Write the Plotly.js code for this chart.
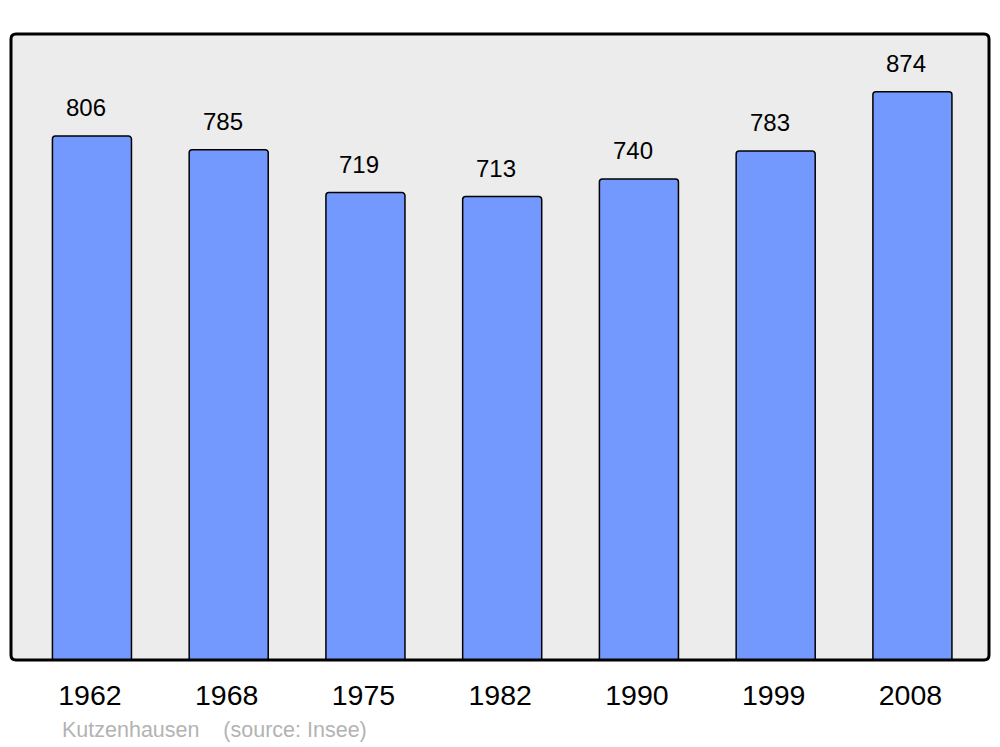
<!DOCTYPE html>
<html>
<head>
<meta charset="utf-8">
<script src="https://cdn.plot.ly/plotly-3.0.1.min.js"></script>
<style>
html,body{margin:0;padding:0;background:#fff;}
#chart{width:1000px;height:747px;}
</style>
</head>
<body>
<div id="chart"></div>
<script>
const years = ["1962", "1968", "1975", "1982", "1990", "1999", "2008"];
const population = [806, 785, 719, 713, 740, 783, 874];
const sourceText = "Kutzenhausen \u00a0\u00a0\u00a0(source: Insee)";

const FONT = '"Liberation Sans", Arial, sans-serif';

const trace = {
  type: 'bar',
  x: years,
  y: population,
  width: 0.578,
  marker: {
    color: '#7399ff',
    line: {color: '#000000', width: 1.5},
    cornerradius: 3
  },
  hoverinfo: 'x+y'
};

const annotations = years.map((yr, i) => ({
  x: i, y: population[i], xref: 'x', yref: 'y',
  text: String(population[i]),
  showarrow: false,
  xanchor: 'center', yanchor: 'bottom',
  xshift: -6, yshift: 13,
  font: {family: FONT, size: 24, color: '#000000'}
}));
annotations.push({
  x: 0.050, y: -0.112, xref: 'paper', yref: 'paper',
  text: sourceText, showarrow: false,
  xanchor: 'left', yanchor: 'middle',
  font: {family: FONT, size: 21.5, color: '#b3b3b3'}
});

// rounded frame path in paper coords
const rx = 5/978, ry = 5/626;
const framePath = `M ${rx},0 L ${1-rx},0 Q 1,0 1,${ry} L 1,${1-ry} Q 1,1 ${1-rx},1 L ${rx},1 Q 0,1 0,${1-ry} L 0,${ry} Q 0,0 ${rx},0 Z`;

const layout = {
  width: 1000, height: 747,
  margin: {l: 11, r: 11, t: 34, b: 87, pad: 0},
  paper_bgcolor: '#ffffff',
  plot_bgcolor: 'rgba(0,0,0,0)',
  showlegend: false,
  font: {family: FONT},
  xaxis: {
    type: 'category',
    range: [-0.592, 6.56],
    showgrid: false, zeroline: false, showline: false,
    ticks: '', ticklabelstandoff: 15, ticklabelshift: -2,
    tickfont: {family: FONT, size: 28.5, color: '#000000'},
    fixedrange: true
  },
  yaxis: {
    range: [0, 963],
    showgrid: false, zeroline: false, showline: false,
    showticklabels: false, ticks: '',
    fixedrange: true
  },
  shapes: [
    {type: 'path', xref: 'paper', yref: 'paper', path: framePath,
     fillcolor: '#ececec', line: {width: 0}, layer: 'below'},
    {type: 'path', xref: 'paper', yref: 'paper', path: framePath,
     fillcolor: 'rgba(0,0,0,0)', line: {color: '#000000', width: 3}, layer: 'above'}
  ],
  annotations: annotations
};

Plotly.newPlot('chart', [trace], layout, {displayModeBar: false, staticPlot: true});
</script>
</body>
</html>
